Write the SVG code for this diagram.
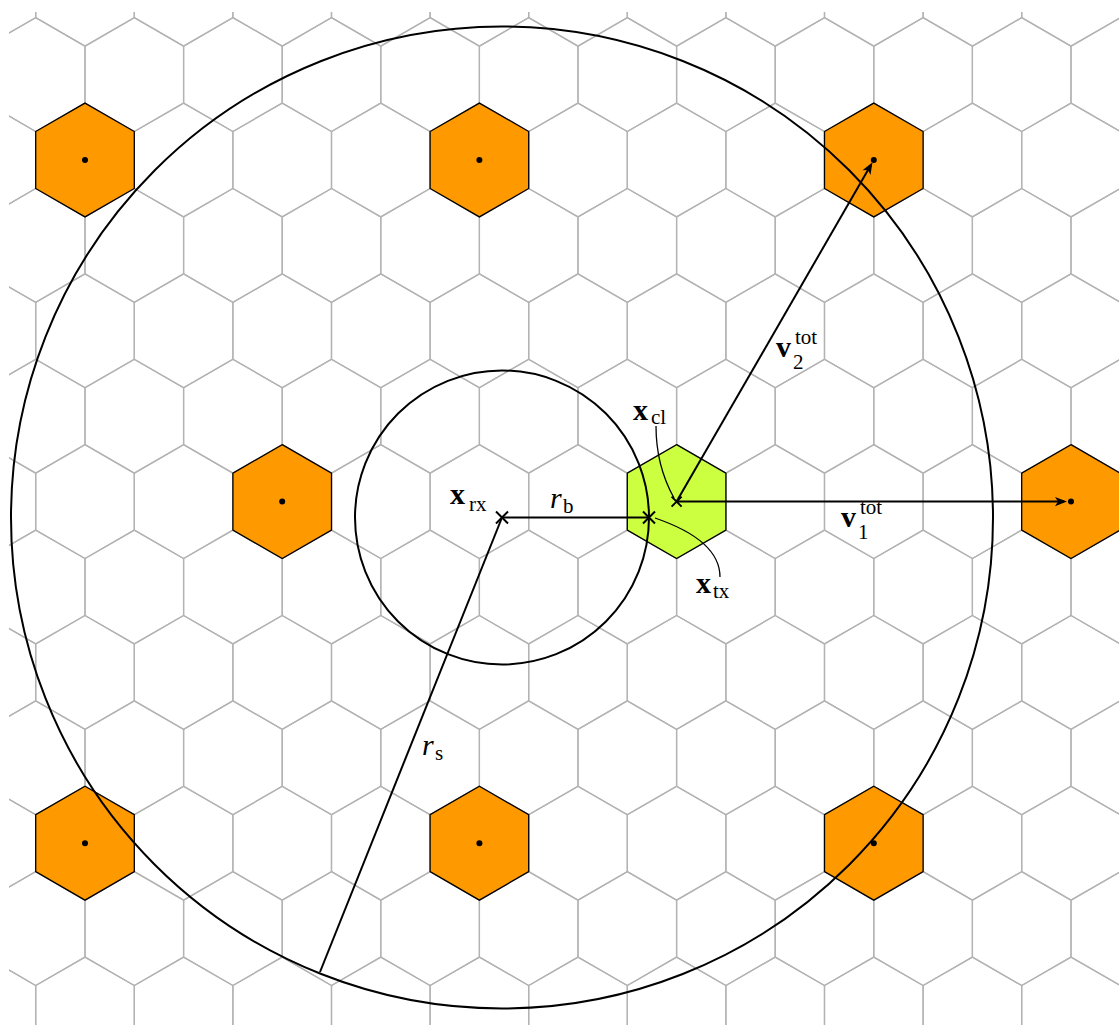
<svg xmlns="http://www.w3.org/2000/svg" xmlns:xlink="http://www.w3.org/1999/xlink" width="1119" height="1025" viewBox="0 0 1119 1025">
<style>
.grid{fill:none;stroke:#b3b3b3;stroke-width:1.3}
.cell{stroke:#000;stroke-width:1.3}
.or{fill:#ff9900}
.gr{fill:#ccff40}
.circ{fill:none;stroke:#000;stroke-width:2}
.ln{fill:none;stroke:#000;stroke-width:2}
.lead{fill:none;stroke:#000;stroke-width:1.3}
.b{font-family:"Liberation Serif","DejaVu Serif",serif;font-weight:bold;font-size:30px;fill:#000}
.i{font-family:"Liberation Serif","DejaVu Serif",serif;font-style:italic;font-size:30px;fill:#000}
.s{font-family:"Liberation Serif","DejaVu Serif",serif;font-weight:normal;font-style:normal;font-size:21px;fill:#000}
</style>
<defs>
<polygon id="h" points="0,-56.93 49.3,-28.47 49.3,28.47 0,56.93 -49.3,28.47 -49.3,-28.47"/>
<g id="row">
<use xlink:href="#h" x="-13.6"/><use xlink:href="#h" x="85"/><use xlink:href="#h" x="183.6"/><use xlink:href="#h" x="282.2"/><use xlink:href="#h" x="380.8"/><use xlink:href="#h" x="479.4"/><use xlink:href="#h" x="578"/><use xlink:href="#h" x="676.6"/><use xlink:href="#h" x="775.2"/><use xlink:href="#h" x="873.8"/><use xlink:href="#h" x="972.4"/><use xlink:href="#h" x="1071"/><use xlink:href="#h" x="1169.6"/>
</g>
<clipPath id="clip"><rect x="9" y="12" width="1110" height="1013"/></clipPath>
<marker id="arr" viewBox="-13 -5 14 10" refX="-3" refY="0" markerWidth="14" markerHeight="10" markerUnits="userSpaceOnUse" orient="auto">
<path d="M0,0 L-12,-4.6 L-9,0 L-12,4.6 Z" fill="#000"/>
</marker>
</defs>
<g id="grid" class="grid" clip-path="url(#clip)">
<use xlink:href="#row" y="-10.8"/>
<use xlink:href="#row" x="-49.3" y="74.6"/>
<use xlink:href="#row" y="160"/>
<use xlink:href="#row" x="-49.3" y="245.4"/>
<use xlink:href="#row" y="330.8"/>
<use xlink:href="#row" x="-49.3" y="416.2"/>
<use xlink:href="#row" y="501.6"/>
<use xlink:href="#row" x="-49.3" y="587"/>
<use xlink:href="#row" y="672.4"/>
<use xlink:href="#row" x="-49.3" y="757.8"/>
<use xlink:href="#row" y="843.2"/>
<use xlink:href="#row" x="-49.3" y="928.6"/>
<use xlink:href="#row" y="1014"/>
</g>
<g id="interferers">
<g id="bs1"><use xlink:href="#h" class="cell or" x="85" y="160"/><circle cx="85" cy="160" r="3"/></g>
<g id="bs2"><use xlink:href="#h" class="cell or" x="479.4" y="160"/><circle cx="479.4" cy="160" r="3"/></g>
<g id="bs3"><use xlink:href="#h" class="cell or" x="873.8" y="160"/><circle cx="873.8" cy="160" r="3"/></g>
<g id="bs4"><use xlink:href="#h" class="cell or" x="282.2" y="501.6"/><circle cx="282.2" cy="501.6" r="3"/></g>
<g id="bs5"><use xlink:href="#h" class="cell or" x="1071" y="501.6"/><circle cx="1071" cy="501.6" r="3"/></g>
<g id="bs6"><use xlink:href="#h" class="cell or" x="85" y="843.2"/><circle cx="85" cy="843.2" r="3"/></g>
<g id="bs7"><use xlink:href="#h" class="cell or" x="479.4" y="843.2"/><circle cx="479.4" cy="843.2" r="3"/></g>
<g id="bs8"><use xlink:href="#h" class="cell or" x="873.8" y="843.2"/><circle cx="873.8" cy="843.2" r="3"/></g>
</g>
<g id="cluster"><use xlink:href="#h" class="cell gr" x="676.6" y="501.6"/></g>
<g id="circles">
<circle id="big-circle" class="circ" cx="502" cy="517.5" r="491"/>
<circle id="small-circle" class="circ" cx="502" cy="517.5" r="147"/>
</g>
<g id="connectors">
<line class="ln" x1="502" y1="517.5" x2="649" y2="517.5"/>
<line class="ln" x1="502" y1="517.5" x2="320" y2="972"/>
<line class="ln" x1="676.6" y1="501.6" x2="1064" y2="501.6" marker-end="url(#arr)"/>
<line class="ln" x1="676.6" y1="501.6" x2="871" y2="164.8" marker-end="url(#arr)"/>
<path class="lead" d="M656,426 C656,455 664,480 674,498"/>
<path class="lead" d="M655,518 C690,530 720,548 720,577"/>
</g>
<g id="points" class="ln">
<path d="M496,511.5 L508,523.5 M508,511.5 L496,523.5"/>
<path d="M643,511.5 L655,523.5 M655,511.5 L643,523.5"/>
<path d="M671.6,496.6 L681.6,506.6 M681.6,496.6 L671.6,506.6"/>
</g>
<g id="labels">
<g id="lbl-xrx"><text class="b" x="450" y="504">x<tspan class="s" x="469" y="511">rx</tspan></text></g>
<g id="lbl-rb"><text class="i" x="550" y="508">r<tspan class="s" x="563" y="513">b</tspan></text></g>
<g id="lbl-xcl"><text class="b" x="633" y="420">x<tspan class="s" x="651" y="424">cl</tspan></text></g>
<g id="lbl-xtx"><text class="b" x="696" y="593">x<tspan class="s" x="713" y="598">tx</tspan></text></g>
<g id="lbl-v2"><text class="b" x="776" y="357">v<tspan class="s" x="795" y="344">tot</tspan><tspan class="s" x="793" y="369">2</tspan></text></g>
<g id="lbl-v1"><text class="b" x="841" y="527">v<tspan class="s" x="860" y="514">tot</tspan><tspan class="s" x="858" y="539">1</tspan></text></g>
<g id="lbl-rs"><text class="i" x="422" y="755">r<tspan class="s" x="435" y="760">s</tspan></text></g>
</g>
</svg>
